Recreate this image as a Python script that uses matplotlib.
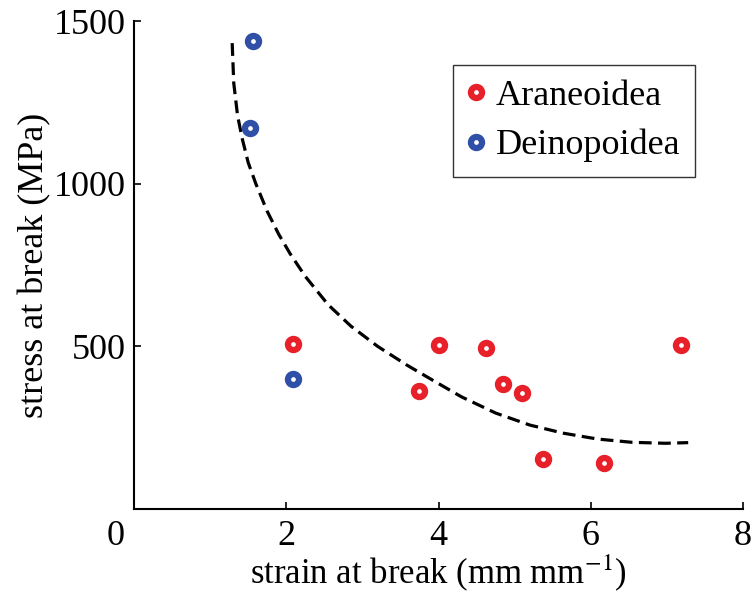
"""Stress vs strain at break: scatter with fitted curve"""
import matplotlib
matplotlib.use("Agg")
matplotlib.rcParams["font.family"] = ["Liberation Serif", "DejaVu Serif"]
matplotlib.rcParams["mathtext.fontset"] = "stix"
import matplotlib.pyplot as plt
import matplotlib.transforms as mtransforms

# Araneoidea
ara_strain = [2.09, 4.01, 4.62, 3.74, 4.85, 5.10, 5.37, 6.18, 7.18]
ara_stress = [507, 505, 495, 363, 385, 358, 155, 140, 505]
# Deinopoidea
dei_strain = [1.56, 1.53, 2.09]
dei_stress = [1440, 1171, 400]
# dashed fit curve
fit_strain = [1.29, 1.31, 1.36, 1.42, 1.50, 1.60, 1.75, 1.90, 2.05, 2.25, 2.55, 2.85,
              3.20, 3.58, 3.93, 4.30, 4.75, 5.20, 5.64, 6.09, 6.54, 6.98, 7.28]
fit_stress = [1432, 1310, 1210, 1140, 1065, 1000, 915, 845, 785, 715, 628, 562,
              500, 443, 395, 345, 295, 258, 233, 215, 205, 202, 204]

red = "#e8202a"
blue = "#3050a8"

fig = plt.figure(figsize=(7.56, 5.94), dpi=100)
ax = fig.add_axes([134 / 756, 1 - 509 / 594, (743 - 134) / 756, (509 - 21) / 594])

ax.plot(fit_strain, fit_stress, color="black", linestyle=(0, (4, 2)), linewidth=2.3)
ax.plot(ara_strain, ara_stress, linestyle="none", marker="o", markersize=8,
        markerfacecolor="white", markeredgecolor=red, markeredgewidth=4.5, label="Araneoidea")
ax.plot(dei_strain, dei_stress, linestyle="none", marker="o", markersize=8,
        markerfacecolor="white", markeredgecolor=blue, markeredgewidth=4.5, label="Deinopoidea")

ax.set_xlim(0, 8)
ax.set_ylim(0, 1500)
ax.set_xticks([0, 2, 4, 6, 8])
ax.set_yticks([500, 1000, 1500])
ax.tick_params(direction="in", length=5, width=1.2, labelsize=26)
ax.tick_params(axis="x", pad=8)
ax.tick_params(axis="y", pad=6)
for s in ["top", "right"]:
    ax.spines[s].set_visible(False)
for s in ["left", "bottom"]:
    ax.spines[s].set_linewidth(1.5)

# the "0" sits a bit left of the axis
lab0 = ax.get_xticklabels()[0]
lab0.set_transform(lab0.get_transform() + mtransforms.ScaledTranslation(-0.18, 0, fig.dpi_scale_trans))

ax.set_xlabel("strain at break (mm mm$^{-1}$)", fontsize=25, labelpad=-1)
ax.set_ylabel("stress at break (MPa)", fontsize=26, labelpad=2)

leg = ax.legend(loc="upper right", bbox_to_anchor=(0.921, 0.910), borderaxespad=0,
                fontsize=26, frameon=True, fancybox=False, edgecolor="black",
                handletextpad=0.3, handlelength=0.5, borderpad=0.4, labelspacing=0.45)
leg.get_frame().set_linewidth(1.0)

fig.savefig("out.png", dpi=100)
